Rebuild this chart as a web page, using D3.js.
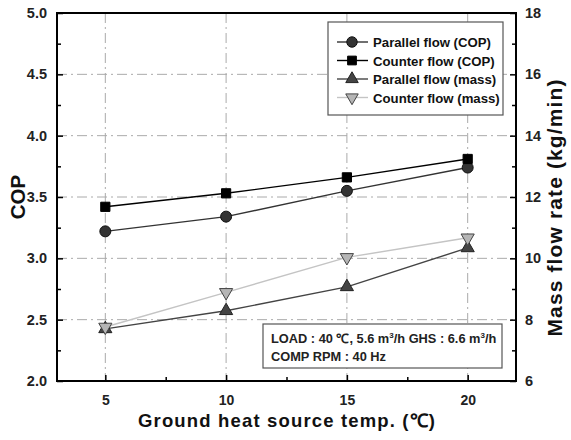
<!DOCTYPE html>
<html>
<head>
<meta charset="utf-8">
<script src="https://cdn.jsdelivr.net/npm/d3@7"></script>
<style>
  body { margin: 0; background: #fff; }
  svg text { font-family: "Liberation Sans", Arial, sans-serif; font-weight: bold; }
</style>
</head>
<body>
<svg id="chart" width="571" height="440"></svg>
<script>
// Ground heat source temperature (deg C)
const temps = [5, 10, 15, 20];
// COP series
const parallelCop = [3.22, 3.34, 3.55, 3.74];
const counterCop = [3.42, 3.53, 3.66, 3.81];
// Mass flow rate series (kg/min)
const parallelMass = [7.70, 8.29, 9.07, 10.34];
const counterMass = [7.76, 8.89, 10.03, 10.67];
// Tick values
const xTicks = [5, 10, 15, 20];
const xMinorTicks = [7.5, 12.5, 17.5];
const copTicks = [2.0, 2.5, 3.0, 3.5, 4.0, 4.5, 5.0];
const massTicks = [6, 8, 10, 12, 14, 16, 18];

const margin = {top: 13, right: 55, bottom: 59, left: 57};
const width = 571 - margin.left - margin.right;
const height = 440 - margin.top - margin.bottom;

const svg = d3.select('#chart');
const g = svg.append('g')
    .attr('transform', `translate(${margin.left},${margin.top})`);

const x = d3.scaleLinear().domain([3, 22]).range([0, width]);
const yCop = d3.scaleLinear().domain([2, 5]).range([height, 0]);
const yMass = d3.scaleLinear().domain([6, 18]).range([height, 0]);

// Dash-dot grid lines.
const gridStyle = sel => sel.attr('stroke', '#aaa').attr('stroke-width', 1)
    .attr('stroke-dasharray', '10,4,2,4');
g.selectAll('.vgrid').data(xTicks).join('line')
    .attr('x1', d => x(d)).attr('x2', d => x(d))
    .attr('y1', 0).attr('y2', height)
    .call(gridStyle);
g.selectAll('.hgrid').data(copTicks.slice(1, -1)).join('line')
    .attr('x1', 0).attr('x2', width)
    .attr('y1', d => yCop(d)).attr('y2', d => yCop(d))
    .call(gridStyle);

// Axes with inward ticks.
const styleAxis = sel => {
  sel.select('.domain').remove();
  sel.selectAll('line').attr('stroke', '#000').attr('stroke-width', 1.5);
  sel.selectAll('text').attr('font-size', 14).attr('fill', '#222');
};

const xAxis = g.append('g').attr('transform', `translate(0,${height})`)
    .call(d3.axisBottom(x).tickValues(xTicks).tickFormat(d3.format('d'))
        .tickSizeInner(-6).tickSizeOuter(0).tickPadding(14));
styleAxis(xAxis);
g.append('g').attr('transform', `translate(0,${height})`)
    .call(d3.axisBottom(x).tickValues(xMinorTicks).tickFormat('')
        .tickSizeInner(-4).tickSizeOuter(0))
    .call(styleAxis);

const copMinor = d3.range(2.25, 5, 0.5);
const leftAxis = g.append('g')
    .call(d3.axisLeft(yCop).tickValues(copTicks).tickFormat(d3.format('.1f'))
        .tickSizeInner(-6).tickSizeOuter(0).tickPadding(10));
styleAxis(leftAxis);
leftAxis.selectAll('text').attr('font-size', 14.5);
g.append('g')
    .call(d3.axisLeft(yCop).tickValues(copMinor).tickFormat('')
        .tickSizeInner(-4).tickSizeOuter(0))
    .call(styleAxis);

const massMinor = d3.range(7, 18, 2);
const rightAxis = g.append('g').attr('transform', `translate(${width},0)`)
    .call(d3.axisRight(yMass).tickValues(massTicks)
        .tickSizeInner(-6).tickSizeOuter(0).tickPadding(9));
styleAxis(rightAxis);
rightAxis.selectAll('text').attr('font-size', 14.5);
g.append('g').attr('transform', `translate(${width},0)`)
    .call(d3.axisRight(yMass).tickValues(massMinor).tickFormat('')
        .tickSizeInner(-4).tickSizeOuter(0))
    .call(styleAxis);

// Frame.
g.append('rect').attr('width', width).attr('height', height)
    .attr('fill', 'none').attr('stroke', '#000').attr('stroke-width', 2);

// Series.
const series = [
  {name: 'Parallel flow (COP)', values: parallelCop, y: yCop, symbol: d3.symbolCircle,
   size: 95, fill: '#333', stroke: '#111', line: '#333', rot: 0},
  {name: 'Counter flow (COP)', values: counterCop, y: yCop, symbol: d3.symbolSquare,
   size: 85, fill: '#000', stroke: '#000', line: '#000', rot: 0},
  {name: 'Parallel flow (mass)', values: parallelMass, y: yMass, symbol: d3.symbolTriangle,
   size: 75, fill: '#444', stroke: '#222', line: '#444', rot: 0},
  {name: 'Counter flow (mass)', values: counterMass, y: yMass, symbol: d3.symbolTriangle,
   size: 75, fill: '#b5b5b5', stroke: '#444', line: '#c4c4c4', rot: 180},
];

series.forEach(s => {
  const pts = temps.map((t, i) => [x(t), s.y(s.values[i])]);
  g.append('path').datum(pts)
      .attr('d', d3.line())
      .attr('fill', 'none').attr('stroke', s.line).attr('stroke-width', 1.4);
  g.selectAll(null).data(pts).join('path')
      .attr('d', d3.symbol(s.symbol, s.size))
      .attr('transform', d => `translate(${d[0]},${d[1]}) rotate(${s.rot})`)
      .attr('fill', s.fill).attr('stroke', s.stroke).attr('stroke-width', 1);
});

// Legend.
const legend = g.append('g').attr('transform', `translate(${328 - margin.left},${22 - margin.top})`);
legend.append('rect').attr('width', 175).attr('height', 93)
    .attr('fill', '#fff').attr('stroke', '#555').attr('stroke-width', 1.2);
series.forEach((s, i) => {
  const ly = 20 + i * 18.5;
  legend.append('line').attr('x1', 9).attr('x2', 40).attr('y1', ly).attr('y2', ly)
      .attr('stroke', s.line).attr('stroke-width', 1.4);
  legend.append('path').attr('d', d3.symbol(s.symbol, s.size * 0.9))
      .attr('transform', `translate(24,${ly}) rotate(${s.rot})`)
      .attr('fill', s.fill).attr('stroke', s.stroke);
  legend.append('text').attr('x', 45).attr('y', ly + 5)
      .attr('font-size', 13.2).attr('fill', '#111').text(s.name);
});

// Condition note.
const note = g.append('g').attr('transform', `translate(${263 - margin.left},${324 - margin.top})`);
note.append('rect').attr('width', 239).attr('height', 44)
    .attr('fill', '#fff').attr('stroke', '#555').attr('stroke-width', 1.2);
const line1 = note.append('text').attr('x', 8).attr('y', 19).attr('font-size', 12.8).attr('fill', '#222');
line1.append('tspan').text('LOAD : 40 ℃, 5.6 m');
line1.append('tspan').attr('dy', -5).attr('font-size', 8).text('3');
line1.append('tspan').attr('dy', 5).text('/h GHS : 6.6 m');
line1.append('tspan').attr('dy', -5).attr('font-size', 8).text('3');
line1.append('tspan').attr('dy', 5).text('/h');
note.append('text').attr('x', 8).attr('y', 37).attr('font-size', 12.8).attr('fill', '#222')
    .text('COMP RPM : 40 Hz');

// Axis titles.
svg.append('text')
    .attr('transform', `translate(25,${margin.top + yCop(3.5)}) rotate(-90)`)
    .attr('text-anchor', 'middle').attr('font-size', 20.5).attr('fill', '#111')
    .text('COP');
svg.append('text')
    .attr('transform', `translate(562,208) rotate(-90)`)
    .attr('text-anchor', 'middle').attr('font-size', 21)
    .attr('textLength', 257).attr('lengthAdjust', 'spacing')
    .attr('fill', '#111').text('Mass flow rate (kg/min)');
svg.append('text')
    .attr('x', margin.left + width / 2).attr('y', 427)
    .attr('text-anchor', 'middle').attr('font-size', 18.5)
    .attr('textLength', 297).attr('lengthAdjust', 'spacing')
    .attr('fill', '#111').text('Ground heat source temp. (℃)');
</script>
</body>
</html>
